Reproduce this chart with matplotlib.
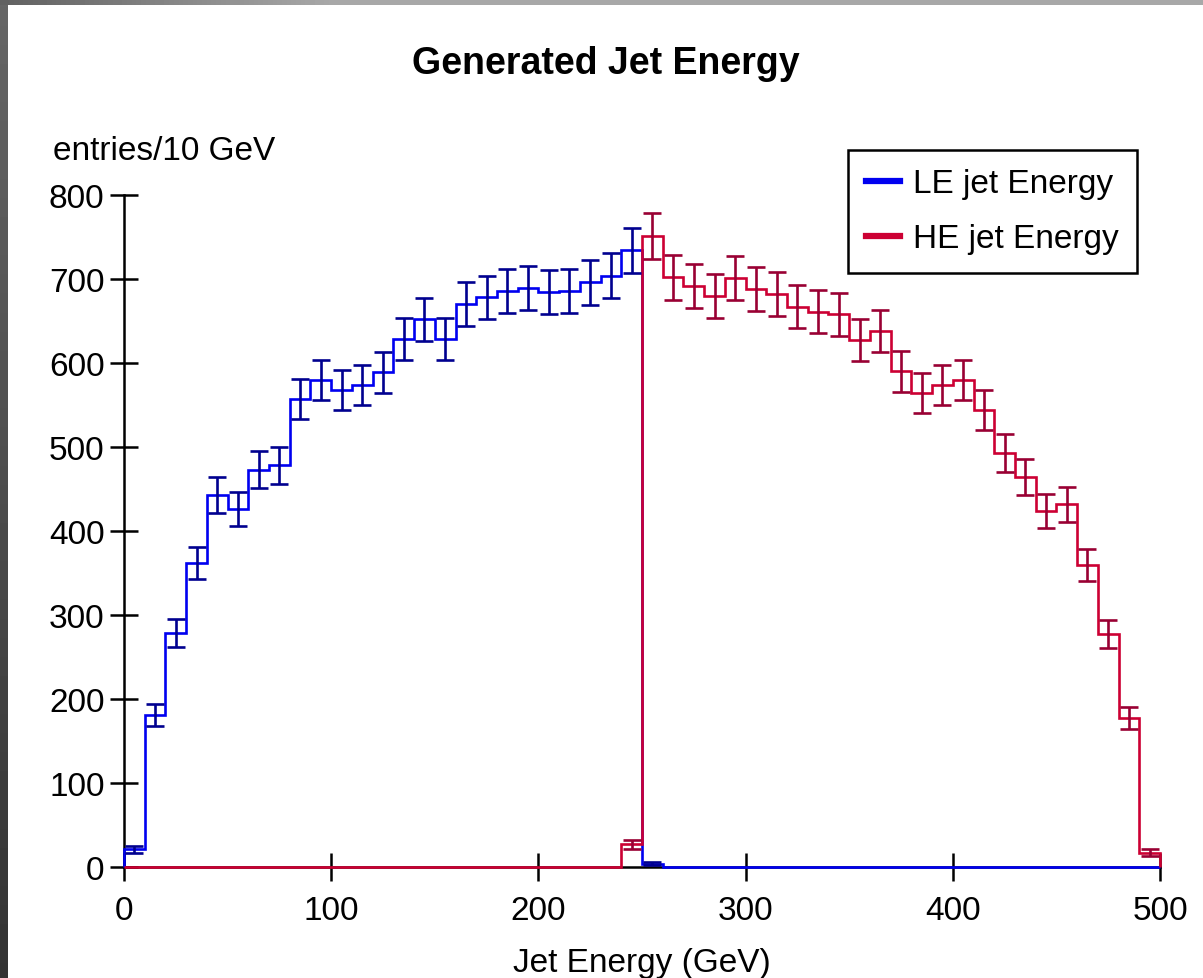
import numpy as np
import matplotlib
matplotlib.use("Agg")
import matplotlib.pyplot as plt
from matplotlib.lines import Line2D

plt.rcParams["font.family"] = ["Liberation Sans", "DejaVu Sans"]

# 10 GeV bins over 0-500 GeV
BIN_WIDTH = 10
X_MAX = 500

# low-energy jets: bins starting at 0 GeV
LE_START = 0
LE_COUNTS = [21, 181, 279, 362, 443, 426, 473, 478, 557, 580,
             568, 574, 589, 629, 652, 629, 670, 678, 686, 689,
             685, 686, 696, 704, 734, 4]

# high-energy jets: bins starting at 240 GeV
HE_START = 240
HE_COUNTS = [27, 751, 702, 692, 680, 701, 688, 682, 667, 661,
             658, 627, 638, 590, 564, 574, 580, 544, 493, 464,
             424, 432, 360, 277, 177, 17]

X_TICKS = [0, 100, 200, 300, 400, 500]
Y_TICKS = [0, 100, 200, 300, 400, 500, 600, 700, 800]

LE_LINE, LE_ERR = "#0000f0", "#00008f"
HE_LINE, HE_ERR = "#cc0033", "#990033"

FS = 24


def full_hist(start, counts):
    edges = np.arange(0, X_MAX + BIN_WIDTH, BIN_WIDTH)
    vals = np.zeros(len(edges) - 1)
    i0 = start // BIN_WIDTH
    vals[i0:i0 + len(counts)] = counts
    return edges, vals


def draw_hist(ax, start, counts, line_color, err_color):
    edges, vals = full_hist(start, counts)
    ax.stairs(vals, edges, baseline=0, color=line_color, linewidth=1.9,
              zorder=3, clip_on=False)
    centers = 0.5 * (edges[:-1] + edges[1:])
    mask = vals > 0
    ax.errorbar(centers[mask], vals[mask], yerr=np.sqrt(vals[mask]),
                fmt="none", ecolor=err_color, elinewidth=1.9,
                capsize=6.5, capthick=1.9, zorder=4, clip_on=False)


W, H = 1203, 979
fig = plt.figure(figsize=(W / 100, H / 100), dpi=100)
fig.patch.set_facecolor("white")

# grey frame strips along the left and top edges
left_strip = fig.add_axes([0, 0, 8 / W, 1])
left_strip.imshow(np.linspace(0.40, 0.20, 256).reshape(-1, 1),
                  cmap="gray", vmin=0, vmax=1, aspect="auto")
left_strip.set_axis_off()
top_strip = fig.add_axes([0, 1 - 6 / H, 1, 6 / H])
grad = np.clip(np.linspace(0.38, 1.4, 256), 0, 0.66).reshape(1, -1)
top_strip.imshow(grad, cmap="gray", vmin=0, vmax=1, aspect="auto")
top_strip.set_axis_off()

ax = fig.add_axes([124 / W, 1 - 868 / H, (1160 - 124) / W, (868 - 196) / H])

draw_hist(ax, LE_START, LE_COUNTS, LE_LINE, LE_ERR)
draw_hist(ax, HE_START, HE_COUNTS, HE_LINE, HE_ERR)

ax.set_xlim(0, X_MAX)
ax.set_ylim(0, 800)
ax.set_xticks(X_TICKS)
ax.set_yticks(Y_TICKS)
ax.tick_params(axis="both", direction="inout", length=20, width=1.8,
               labelsize=FS)
ax.tick_params(axis="x", pad=10)
ax.tick_params(axis="y", pad=4)
for side in ("top", "right"):
    ax.spines[side].set_visible(False)
for side in ("left", "bottom"):
    ax.spines[side].set_linewidth(1.8)

ax.set_xlabel("Jet Energy (GeV)", fontsize=FS, labelpad=15)
fig.text(53 / W, 1 - 152 / H, "entries/10 GeV", fontsize=FS,
         ha="left", va="center")
fig.text(606 / W, 1 - 64 / H, "Generated Jet Energy", fontsize=27,
         fontweight="bold", ha="center", va="center")

handles = [Line2D([], [], color=LE_LINE, linewidth=4.5),
           Line2D([], [], color=HE_LINE, linewidth=4.5)]
leg = fig.legend(handles, ["LE jet Energy", "HE jet Energy"],
                 loc="upper right", bbox_to_anchor=(1137 / W, 1 - 151 / H),
                 fontsize=FS, frameon=True, fancybox=False, framealpha=1,
                 handlelength=1.0, handletextpad=0.4, borderpad=0.55,
                 labelspacing=0.72, borderaxespad=0)
leg.get_frame().set_edgecolor("black")
leg.get_frame().set_linewidth(1.8)

fig.savefig("out.png", dpi=100)
